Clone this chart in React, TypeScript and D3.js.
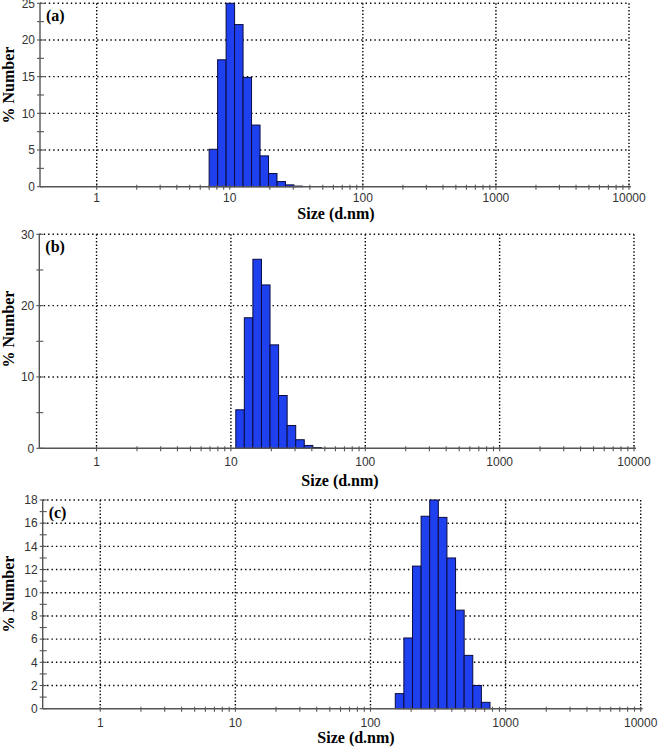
import React from 'react';
import * as d3 from 'd3';

// ---------- data ----------
const X_TICK_VALUES = [1, 10, 100, 1000, 10000];
const X_TICK_LABELS = ['1', '10', '100', '1000', '10000'];
const X_TITLE = 'Size (d.nm)';
const Y_TITLE = '% Number';

// panel (a)
const A_SIZES = [7.531, 8.721, 10.1, 11.7, 13.54, 15.69, 18.17, 21.04, 24.36, 28.21, 32.67];
const A_PERCENT = [5.1, 17.3, 25.0, 22.1, 14.9, 8.4, 4.2, 1.8, 0.7, 0.25, 0.08];
const A_Y_LABELS = [0, 5, 10, 15, 20, 25];
const A_Y_TICK_STEP = 2.5;

// panel (b)
const B_SIZES = [11.7, 13.54, 15.69, 18.17, 21.04, 24.36, 28.21, 32.67, 37.84, 43.82];
const B_PERCENT = [5.4, 18.3, 26.5, 22.9, 14.5, 7.4, 3.2, 1.2, 0.4, 0.1];
const B_Y_LABELS = [0, 10, 20, 30];
const B_Y_TICK_STEP = 5;

// panel (c)
const C_SIZES = [164.2, 190.1, 220.2, 255.0, 295.3, 342.0, 396.1, 458.7, 531.2, 615.1, 712.4];
const C_PERCENT = [1.3, 6.1, 12.3, 16.6, 18.0, 16.5, 13.0, 8.5, 4.6, 2.0, 0.55];
const C_Y_LABELS = [0, 2, 4, 6, 8, 10, 12, 14, 16, 18];
const C_Y_TICK_STEP = 1;

const PANEL_LETTERS = ['(a)', '(b)', '(c)'];

// ---------- layout ----------
const W = 661;
const H = 747;
const X_MIN = 0.375;
const X_MAX = 10000;

const LAYOUT = [
  { left: 40, right: 629, top: 3.3, bottom: 186.7, tickLabelDy: 15.3, titleY: 219, titleX: 336, yTitleCy: 85 },
  { left: 39.3, right: 634, top: 234.3, bottom: 448.3, tickLabelDy: 18, titleY: 485.5, titleX: 340, yTitleCy: 329 },
  { left: 42.7, right: 640.7, top: 500, bottom: 708.7, tickLabelDy: 18, titleY: 743, titleX: 356, yTitleCy: 594 },
];

const BAR_FILL = '#1f40ee';
const BAR_STROKE = '#0b0b40';
const AXIS_COLOR = '#555';
const TICK_FONT = '"Liberation Sans", Arial, sans-serif';
const TITLE_FONT = '"Liberation Serif", "Times New Roman", serif';

interface PanelProps {
  sizes: number[];
  values: number[];
  yLabels: number[];
  yStep: number;
  letter: string;
  lay: typeof LAYOUT[number];
}

function edgesFor(sizes: number[]): [number, number][] {
  return sizes.map((s, i) => {
    const prev = i > 0 ? sizes[i - 1] : (s * s) / sizes[i + 1];
    const next = i < sizes.length - 1 ? sizes[i + 1] : (s * s) / sizes[i - 1];
    return [Math.sqrt(prev * s), Math.sqrt(s * next)];
  });
}

function Panel({ sizes, values, yLabels, yStep, letter, lay }: PanelProps) {
  const x = d3.scaleLog().domain([X_MIN, X_MAX]).range([lay.left, lay.right]);
  const yMax = yLabels[yLabels.length - 1];
  const y = d3.scaleLinear().domain([0, yMax]).range([lay.bottom, lay.top]);
  const edges = edgesFor(sizes);

  const minorX: number[] = [];
  for (let k = 0; k < 4; k++) {
    for (let m = 1; m <= 9; m++) minorX.push(m * Math.pow(10, k));
  }
  minorX.push(10000);
  const yTicks = d3.range(0, yMax + 1e-6, yStep);

  return (
    <g>
      {/* horizontal grid */}
      {yLabels.filter((v) => v > 0).map((v) => (
        <line key={'hg' + v} x1={lay.left} x2={lay.right} y1={y(v)} y2={y(v)}
          stroke="#000" strokeWidth={1.4} strokeDasharray="1.4 3" />
      ))}
      {/* vertical grid */}
      {X_TICK_VALUES.map((v) => (
        <line key={'vg' + v} x1={x(v)} x2={x(v)} y1={lay.top} y2={lay.bottom}
          stroke="#000" strokeWidth={1.4} strokeDasharray="1.4 2" />
      ))}
      {/* bars */}
      {values.map((v, i) => (
        <rect key={'b' + i} x={x(edges[i][0])} y={y(v)}
          width={x(edges[i][1]) - x(edges[i][0])} height={y(0) - y(v)}
          fill={BAR_FILL} stroke={BAR_STROKE} strokeWidth={1} />
      ))}
      {/* axes */}
      <line x1={lay.left} x2={lay.right + 2} y1={lay.bottom} y2={lay.bottom} stroke={AXIS_COLOR} strokeWidth={1.4} />
      <line x1={lay.left} x2={lay.left} y1={lay.top} y2={lay.bottom} stroke={AXIS_COLOR} strokeWidth={1.4} />
      {minorX.map((v, i) => (
        <line key={'xt' + i} x1={x(v)} x2={x(v)} y1={lay.bottom - 2} y2={lay.bottom + 3}
          stroke={AXIS_COLOR} strokeWidth={1.1} />
      ))}
      {yTicks.map((v, i) => (
        <line key={'yt' + i} x1={lay.left - 3} x2={lay.left + 4} y1={y(v)} y2={y(v)}
          stroke={AXIS_COLOR} strokeWidth={1.1} />
      ))}
      {X_TICK_VALUES.map((v, i) => (
        <text key={'xl' + v} x={x(v)} y={lay.bottom + lay.tickLabelDy} textAnchor="middle"
          fontFamily={TICK_FONT} fontSize={12} fill="#333">{X_TICK_LABELS[i]}</text>
      ))}
      {yLabels.map((v) => (
        <text key={'yl' + v} x={lay.left - 5} y={y(v)} dy="0.35em" textAnchor="end"
          fontFamily={TICK_FONT} fontSize={12} fill="#333">{v}</text>
      ))}
      <text x={lay.left + 6} y={lay.top + 18} fontFamily={TITLE_FONT} fontWeight="bold" fontSize={16} fill="#000">{letter}</text>
      <text x={lay.titleX} y={lay.titleY} textAnchor="middle" fontFamily={TITLE_FONT} fontWeight="bold"
        fontSize={16} fill="#000">{X_TITLE}</text>
      <text transform={`translate(14,${lay.yTitleCy}) rotate(-90)`} textAnchor="middle" fontFamily={TITLE_FONT}
        fontWeight="bold" fontSize={16} fill="#000">{Y_TITLE}</text>
    </g>
  );
}

export default function App() {
  const panels = [
    { sizes: A_SIZES, values: A_PERCENT, yLabels: A_Y_LABELS, yStep: A_Y_TICK_STEP },
    { sizes: B_SIZES, values: B_PERCENT, yLabels: B_Y_LABELS, yStep: B_Y_TICK_STEP },
    { sizes: C_SIZES, values: C_PERCENT, yLabels: C_Y_LABELS, yStep: C_Y_TICK_STEP },
  ];
  return (
    <svg width={W} height={H} style={{ position: 'absolute', left: 0, top: 0, background: '#fff' }}>
      <rect width={W} height={H} fill="#fff" />
      {panels.map((p, i) => (
        <Panel key={i} {...p} letter={PANEL_LETTERS[i]} lay={LAYOUT[i]} />
      ))}
    </svg>
  );
}
